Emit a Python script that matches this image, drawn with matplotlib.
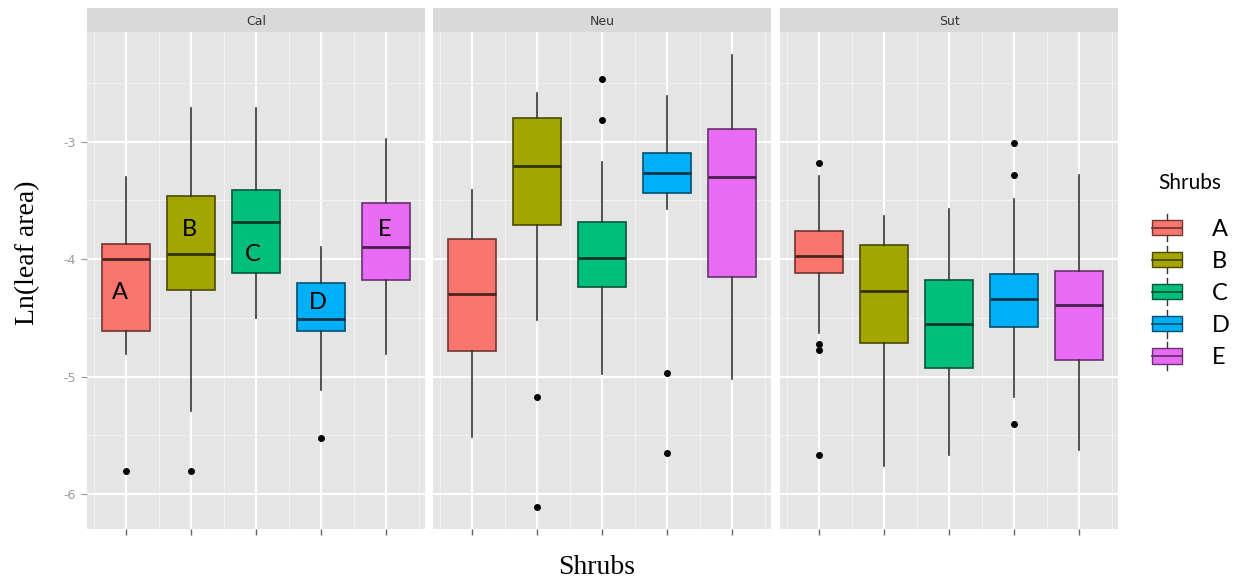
import numpy as np
import matplotlib.pyplot as plt
from matplotlib.patches import Rectangle, Patch
from matplotlib.lines import Line2D
from matplotlib.legend_handler import HandlerBase
from matplotlib.colors import to_rgb

shrubs = ['A', 'B', 'C', 'D', 'E']
sites = ['Cal', 'Neu', 'Sut']
fills = ['#F8766D', '#A3A500', '#00BF7D', '#00B0F6', '#E76BF3']

# boxplot stats, one row per site (Cal, Neu, Sut)
whishi = [[-3.30, -2.71, -2.71, -3.90, -2.98],
          [-3.41, -2.59, -3.17, -2.61, -2.26],
          [-3.29, -3.63, -3.57, -3.49, -3.28]]
q3 = [[-3.87, -3.46, -3.41, -4.20, -3.52],
      [-3.83, -2.80, -3.68, -3.10, -2.89],
      [-3.76, -3.88, -4.18, -4.13, -4.10]]
med = [[-4.00, -3.96, -3.68, -4.51, -3.90],
       [-4.30, -3.21, -3.99, -3.27, -3.30],
       [-3.97, -4.27, -4.55, -4.34, -4.39]]
q1 = [[-4.61, -4.26, -4.12, -4.61, -4.18],
      [-4.78, -3.71, -4.24, -3.44, -4.15],
      [-4.12, -4.71, -4.93, -4.58, -4.86]]
whislo = [[-4.81, -5.29, -4.50, -5.11, -4.81],
          [-5.51, -4.52, -4.98, -3.57, -5.02],
          [-4.63, -5.76, -5.67, -5.17, -5.62]]
outliers = [[[-5.80], [-5.80], [], [-5.52], []],
            [[], [-5.17, -6.11], [-2.47, -2.82], [-4.97, -5.65], []],
            [[-3.18, -4.72, -4.77, -5.67], [], [], [-3.01, -3.28, -5.40], []]]

# letters written inside the Cal boxes
lab_x = [0.91, 1.98, 2.95, 3.95, 4.98]
lab_y = [-4.28, -3.75, -3.96, -4.37, -3.75]


def darker(c, f=0.45):
    r, g, b = to_rgb(c)
    return (r * f, g * f, b * f)


class BoxKey(HandlerBase):
    def create_artists(self, legend, orig, xd, yd, w, h, fontsize, trans):
        x0, y0 = -xd, -yd
        fc = orig.get_facecolor()
        ec = orig.get_edgecolor()
        xm = x0 + w / 2
        wh = Line2D([xm, xm], [y0 - 0.15 * h, y0 + 1.15 * h], color='#333333', lw=1)
        box = Rectangle((x0, y0 + 0.14 * h), w, 0.72 * h, facecolor=fc, edgecolor=ec, lw=1)
        md = Line2D([x0, x0 + w], [y0 + h / 2] * 2, color=ec, lw=1.3)
        for a in (wh, box, md):
            a.set_transform(trans)
        return [wh, box, md]


W, H = 1249, 585
fig = plt.figure(figsize=(W / 100, H / 100), dpi=100)

panel_left = [87, 433, 780]
pw = 338
top, bot = 32, 529
pos = np.arange(1, 6)

for k, site in enumerate(sites):
    ax = fig.add_axes([panel_left[k] / W, 1 - bot / H, pw / W, (bot - top) / H])
    ax.set_facecolor('#E5E5E5')
    for s in ax.spines.values():
        s.set_visible(False)

    stats = []
    for i in range(5):
        stats.append(dict(med=med[k][i], q1=q1[k][i], q3=q3[k][i],
                          whislo=whislo[k][i], whishi=whishi[k][i],
                          fliers=outliers[k][i]))
    b = ax.bxp(stats, positions=pos, widths=0.75, showcaps=False, patch_artist=True,
               whiskerprops=dict(color='#333333', lw=1.2),
               flierprops=dict(marker='o', markerfacecolor='black', markeredgecolor='black',
                               markersize=4),
               zorder=3)
    for i, p in enumerate(b['boxes']):
        p.set_facecolor(fills[i])
        p.set_edgecolor(darker(fills[i]))
        p.set_linewidth(1.2)
    for i, m in enumerate(b['medians']):
        m.set_color(darker(fills[i], 0.3))
        m.set_linewidth(2)

    ax.set_xlim(0.4, 5.6)
    ax.set_ylim(-6.296, -2.067)
    ax.set_yticks([-6, -5, -4, -3])
    ax.set_yticks([-5.5, -4.5, -3.5, -2.5], minor=True)
    ax.set_xticks(pos)
    ax.set_xticks(np.concatenate([[0.5], pos + 0.5]), minor=True)
    ax.grid(True, which='major', color='white', lw=1.5, zorder=0)
    ax.grid(True, which='minor', color='#F2F2F2', lw=0.8, zorder=0)
    ax.set_axisbelow(True)
    ax.set_xticklabels([])
    ax.tick_params(axis='x', which='major', length=4, color='#666666', width=1)
    ax.tick_params(axis='both', which='minor', length=0)
    if k == 0:
        ax.set_yticklabels(['-6', '-5', '-4', '-3'])
        ax.tick_params(axis='y', which='major', length=4, color='#999999',
                       labelcolor='#999999', labelsize=9, pad=4)
        for i in range(5):
            ax.text(lab_x[i], lab_y[i], shrubs[i], ha='center', va='center',
                    fontsize=17, family='Lato', zorder=5)
    else:
        ax.tick_params(axis='y', which='major', length=0, labelleft=False)

    # facet strip
    sx = fig.add_axes([panel_left[k] / W, 1 - top / H, pw / W, 24 / H])
    sx.set_facecolor('#D9D9D9')
    sx.set_xticks([])
    sx.set_yticks([])
    for s in sx.spines.values():
        s.set_visible(False)
    sx.text(0.5, 0.45, site, ha='center', va='center', fontsize=9, color='#333333',
            transform=sx.transAxes)

fig.text(28 / W, 1 - 253 / H, 'Ln(leaf area)', rotation=90, ha='center', va='center',
         fontsize=20, family='Liberation Serif')
fig.text(597 / W, 1 - 568 / H, 'Shrubs', ha='center', va='center',
         fontsize=20, family='Liberation Serif')

fig.text(1158 / W, 1 - 183 / H, 'Shrubs', ha='left', va='center',
         fontsize=15, family='Lato')
handles = [Patch(facecolor=fills[i], edgecolor=darker(fills[i])) for i in range(5)]
leg = fig.legend(handles, shrubs, handler_map={Patch: BoxKey()},
                 loc='upper left', bbox_to_anchor=(1152 / W, 1 - 217 / H),
                 frameon=False, prop=dict(family='Lato', size=17),
                 handlelength=1.25, handleheight=1.0, labelspacing=0.4, handletextpad=1.3,
                 borderpad=0, borderaxespad=0)

fig.savefig('out.png', dpi=100)
